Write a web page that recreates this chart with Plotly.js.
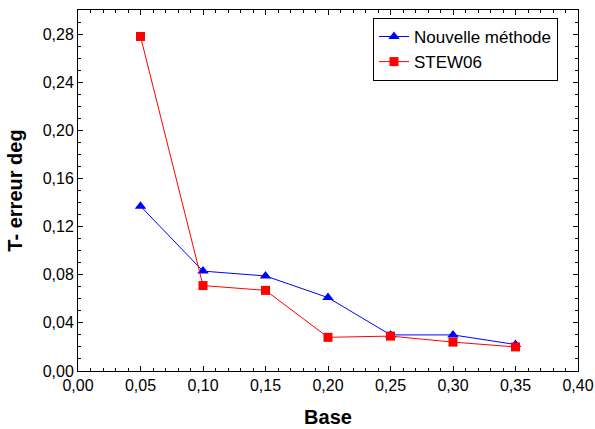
<!DOCTYPE html>
<html>
<head>
<meta charset="utf-8">
<script src="https://cdn.plot.ly/plotly-3.0.1.min.js"></script>
<style>html,body{margin:0;padding:0;background:#fff;}#chart{width:595px;height:429px;}</style>
</head>
<body>
<div id="chart"></div>
<script>
const base = [0.05, 0.10, 0.15, 0.20, 0.25, 0.30, 0.35];
const nouvelle = [0.137, 0.083, 0.079, 0.061, 0.030, 0.030, 0.022];
const stew06 = [0.278, 0.071, 0.067, 0.028, 0.029, 0.024, 0.020];
const xTicks = [0, 0.05, 0.10, 0.15, 0.20, 0.25, 0.30, 0.35, 0.40];
const yTicks = [0, 0.04, 0.08, 0.12, 0.16, 0.20, 0.24, 0.28];

const traces = [
  {x: base, y: nouvelle, name: 'Nouvelle méthode', mode: 'lines+markers', type: 'scatter',
   line: {color: '#0000ff', width: 1}, marker: {symbol: 'triangle-up', size: 10, color: '#0000ff'}},
  {x: base, y: stew06, name: 'STEW06', mode: 'lines+markers', type: 'scatter',
   line: {color: '#ff0000', width: 1}, marker: {symbol: 'square', size: 9, color: '#ff0000'}}
];

const axisCommon = {
  showline: true, linecolor: '#000', linewidth: 1, mirror: 'ticks',
  ticks: 'inside', ticklen: 5, tickcolor: '#000', showgrid: false, zeroline: false,
  tickformat: '.2f', tickfont: {family: 'Liberation Sans, Arial', size: 16, color: '#000'}
};

const layout = {
  width: 595, height: 429,
  margin: {l: 78, r: 17, t: 10, b: 58},
  paper_bgcolor: '#fff', plot_bgcolor: '#fff',
  separators: ', ',
  font: {family: 'Liberation Sans, Arial', color: '#000'},
  xaxis: Object.assign({}, axisCommon, {
    range: [0, 0.40], tickvals: xTicks,
    minor: {dtick: 0.01, ticks: 'inside', ticklen: 3, tickcolor: '#000', showgrid: false},
    title: {text: '<b>Base</b>', font: {size: 20, family: 'Liberation Sans, Arial'}, standoff: 16}
  }),
  yaxis: Object.assign({}, axisCommon, {
    range: [0, 0.30], tickvals: yTicks,
    minor: {dtick: 0.01, ticks: 'inside', ticklen: 3, tickcolor: '#000', showgrid: false},
    title: {text: '<b>T- erreur deg</b>', font: {size: 20, family: 'Liberation Sans, Arial'}, standoff: 14}
  }),
  legend: {
    x: 0.59, y: 0.978, xanchor: 'left', yanchor: 'top',
    bordercolor: '#000', borderwidth: 1, bgcolor: '#fff',
    font: {size: 17, family: 'Liberation Sans, Arial'},
    tracegroupgap: 0, itemwidth: 30
  },
  showlegend: true
};

Plotly.newPlot('chart', traces, layout, {displayModeBar: false, staticPlot: true});
</script>
</body>
</html>
